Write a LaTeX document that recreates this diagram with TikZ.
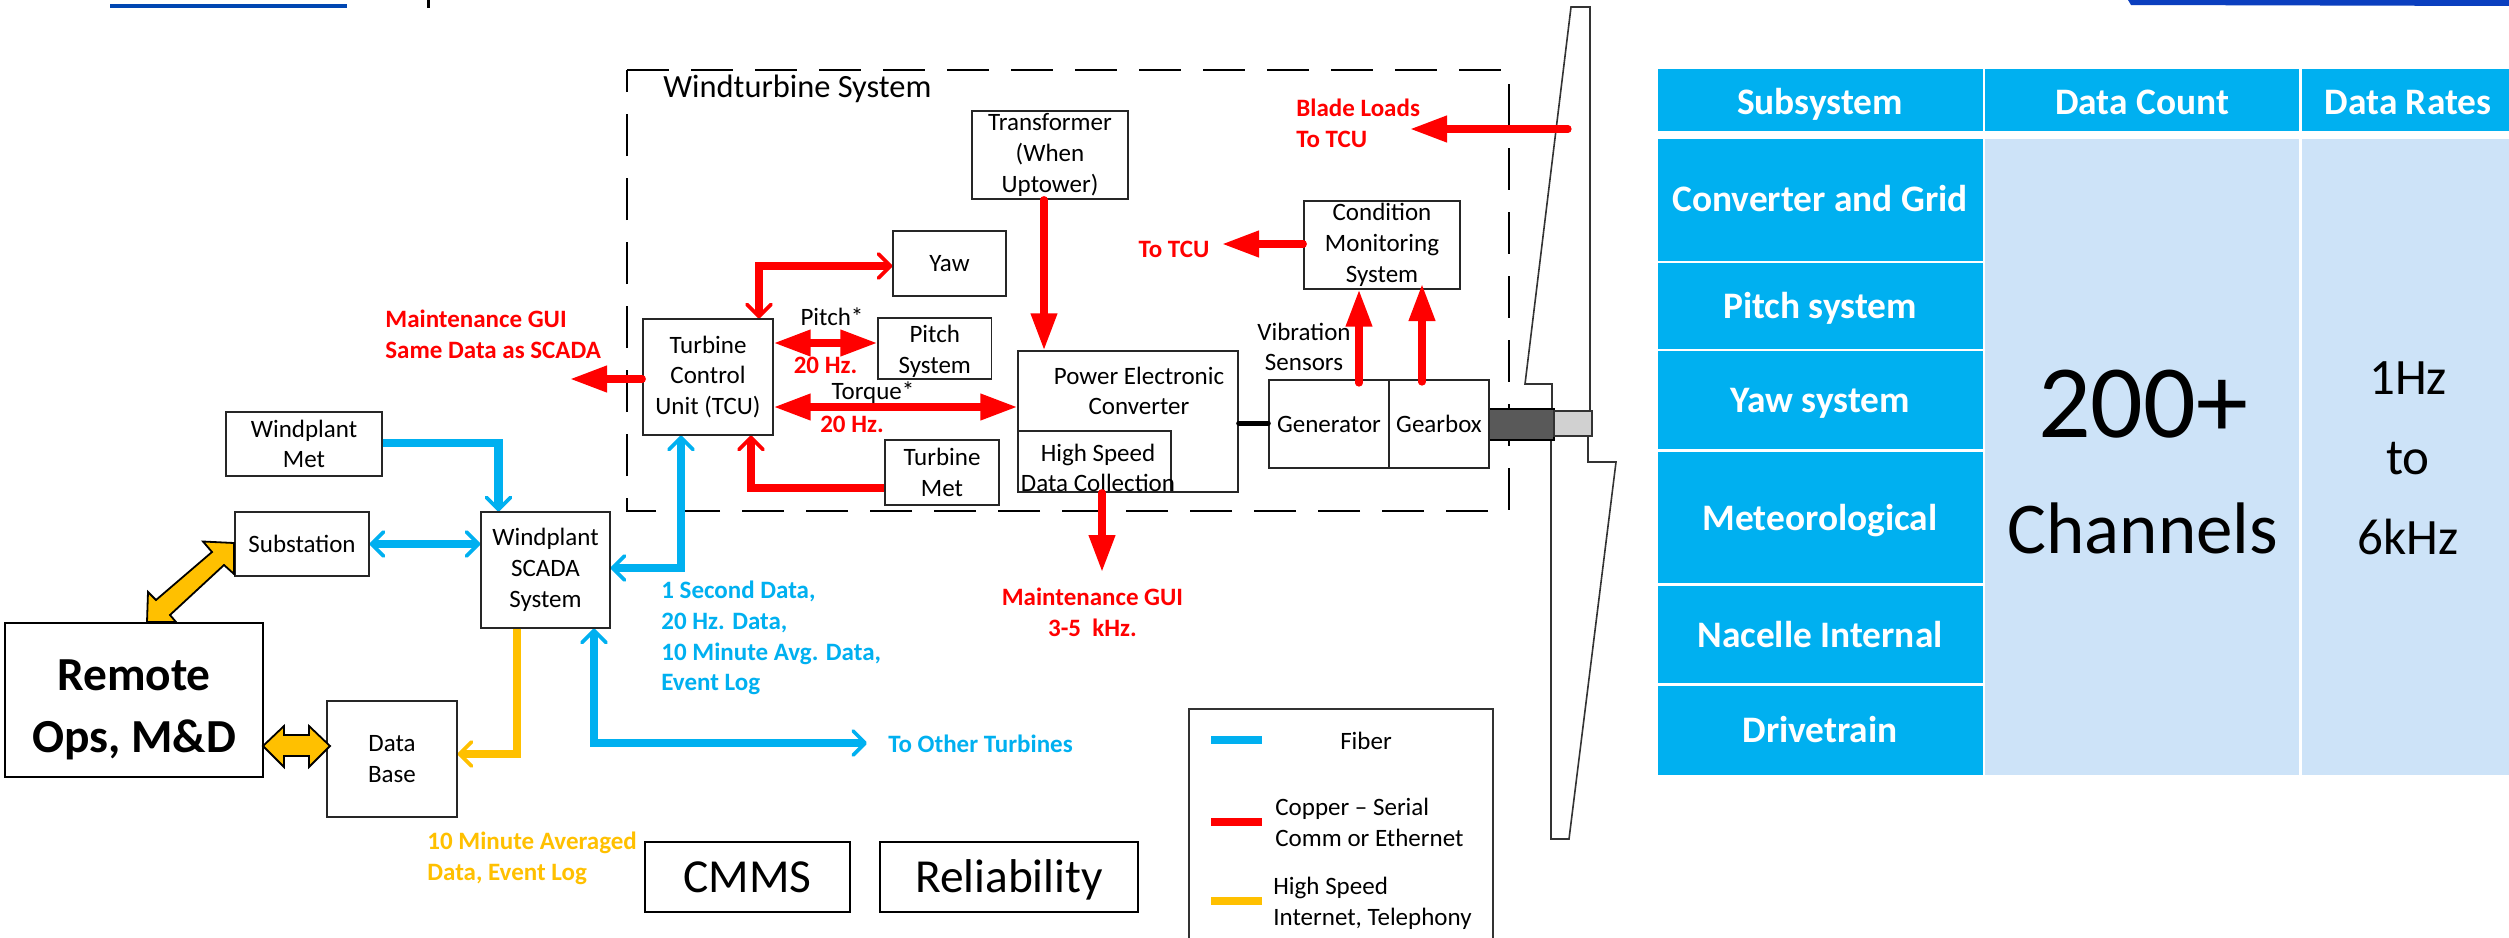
\documentclass[tikz,border=0pt]{standalone}
\usepackage{fontspec}
\setmainfont{Carlito}
\usetikzlibrary{arrows.meta,calc}
\definecolor{fib}{HTML}{00B0F0}
\definecolor{cop}{HTML}{FF0000}
\definecolor{gld}{HTML}{FFC000}
\definecolor{lite}{HTML}{CDE3F8}
\newcommand{\fs}[2]{\fontsize{#1}{#2}\selectfont}
\tikzset{
  x=0.5pt,y=-0.5pt,
  tri/.tip={Triangle[length=18.5pt,width=12.5pt]},
  barbtip/.tip={Straight Barb[length=6pt,width=12pt,line width=1.8pt,round]},
  box/.style={draw=black!85,line width=0.7pt,inner sep=0pt,align=center,font=\fs{12.5}{15.4}},
  bigbox/.style={draw=black,line width=1.2pt,inner sep=0pt,align=center,font=\fs{23.7}{29},text height=15.3pt,text depth=0pt},
  txt/.style={inner sep=0pt,font=\fs{12.5}{15.4}},
  redtxt/.style={inner sep=0pt,text=cop,font=\fs{12.5}{15.4}\bfseries},
  bluetxt/.style={inner sep=0pt,text=fib,font=\fs{12.5}{15.4}\bfseries},
  goldtxt/.style={inner sep=0pt,text=gld,font=\fs{12.5}{15.4}\bfseries},
  fiber/.style={draw=fib,line width=4.2pt},
  copper/.style={draw=cop,line width=3.6pt,line cap=round},
  copperb/.style={draw=cop,line width=4.2pt},
  serv/.style={draw=gld,line width=3.6pt},
  block/.style={draw=black,line width=0.9pt,fill=gld,line join=miter},
  hdcell/.style={fill=fib,inner sep=0pt},
  hd/.style={inner sep=0pt,text=white,font=\fs{18.7}{22}\bfseries,text height=12pt,text depth=0pt},
  cellb/.style={fill=lite,inner sep=0pt,align=center},
}
\begin{document}
\begin{tikzpicture}
\useasboundingbox (0,0) rectangle (2509,937);
% top fragments
\fill[fill=white] (0,0) rectangle (2509,937);
\draw[line width=1.6pt,draw=blue!60!cyan!70!black] (110,6) -- (347,6);
\draw[line width=1.5pt,draw=black] (428,0) -- (428,8);
\fill[fill={rgb,255:red,11;green,63;blue,191}] (2128,0) -- (2509,0) -- (2509,6) -- (2131,5) -- cycle;
% turbine boundary
\draw[line width=1.4pt,dash pattern=on 21pt off 11pt] (627,70) -- (1509,70) -- (1509,511) -- (627,511) -- cycle;
\node[txt,anchor=west,font=\fs{16.2}{18}] (wts) at (663,89) {Windturbine System};
% blade and shaft
\draw[draw=black!80,line width=0.8pt] (1552,409) -- (1552,384) -- (1525,384) -- (1571,7) -- (1590,7) -- (1590,411);
\draw[draw=black!80,line width=0.8pt] (1588,436) -- (1588,462) -- (1616,462) -- (1569,839) -- (1551,839) -- (1551,440);
\node[draw=black,line width=0.7pt,fill=black!65,inner sep=0pt,minimum width=32.5pt,minimum height=15.5pt] (shaft) at (1521.5,424.5) {};
\node[draw=black!80,line width=0.7pt,fill=black!18,inner sep=0pt,minimum width=19pt,minimum height=12.5pt] (hub) at (1573,423.5) {};
% boxes
\node[box,minimum width=78pt,minimum height=32pt] (met) at (304,444) {Windplant\\Met};
\node[box,minimum width=67pt,minimum height=32pt] (sub) at (302,544) {Substation};
\node[box,minimum width=64.5pt,minimum height=58pt] (scada) at (545.5,570) {Windplant\\SCADA\\System};
\node[box,minimum width=65pt,minimum height=58pt] (tcu) at (708,377) {Turbine\\Control\\Unit (TCU)};
\node[box,minimum width=65pt,minimum height=58pt] (db) at (392,759) {Data\\Base};
\node[draw=black,line width=1.2pt,inner sep=0pt,minimum width=129pt,minimum height=77pt] (remote) at (134,700) {};
\node[inner sep=0pt,align=center,font=\fs{23.7}{31}\bfseries] (remotet) at (134,710) {Remote\\Ops, M\&D};
\node[bigbox,minimum width=102.5pt,minimum height=35pt] (cmms) at (747.5,877) {CMMS};
\node[bigbox,minimum width=129pt,minimum height=35pt] (rel) at (1009,877) {Reliability};
\node[box,minimum width=78pt,minimum height=44pt] (trans) at (1050,155) {Transformer\\(When\\Uptower)};
\node[box,minimum width=56.5pt,minimum height=32.5pt] (yaw) at (949.5,263.5) {Yaw};
\node[box,minimum width=56.75pt,minimum height=30.5pt] (pitch) at (934.75,348.5) {};
\node[txt,align=center] (pitcht) at (934.75,351.5) {Pitch\\System};
\node[box,minimum width=57pt,minimum height=32.5pt] (tmet) at (942,472.5) {Turbine\\Met};
\node[box,minimum width=110pt,minimum height=70.5pt] (pec) at (1128,421.5) {};
\node[txt,align=center] (pect) at (1139,391) {Power Electronic\\Converter};
\node[box,minimum width=76.5pt,minimum height=30.5pt] (hs) at (1094.5,461.5) {};
\node[txt,align=center] (hst) at (1098,468) {High Speed\\Data Collection};
\node[box,minimum width=60pt,minimum height=44pt] (gen) at (1329,424) {Generator};
\node[box,minimum width=50pt,minimum height=44pt] (gear) at (1439,424) {Gearbox};
\node[box,minimum width=78pt,minimum height=44pt] (cond) at (1382,245) {Condition\\Monitoring\\System};
% free ends
\coordinate (toother) at (867,743);
\coordinate (hsout) at (1102,572);
\coordinate (gearup) at (1422,284);
\coordinate (cmsout) at (1222,244);
\coordinate (bladein) at (1568,129);
\coordinate (bladeout) at (1410,129);
\coordinate (guiout) at (570,379);
% fiber
\draw[fiber,-barbtip] (met.east |- 0,443) -| (498.5,0 |- scada.north);
\draw[fiber,barbtip-barbtip] (sub.east) -- (scada.west |- sub.east);
\draw[fiber,barbtip-barbtip] (scada.east |- 0,568) -| (681,0 |- tcu.south);
\draw[fiber,barbtip-barbtip] (594,0 |- scada.south) |- (toother);
% copper
\draw[copperb,barbtip-barbtip] (yaw.west |- 0,266) -| (759,0 |- tcu.north);
\draw[copperb,-barbtip] (tmet.west |- 0,488) -| (751,0 |- tcu.south);
\draw[copper,tri-tri] (tcu.east |- 0,343) -- (pitch.west |- 0,343);
\draw[copper,tri-tri] (tcu.east |- 0,407) -- (pec.west |- 0,407);
\draw[copper,-tri] (tcu.west |- 0,379) -- (guiout);
\draw[copper,-tri] (1044,0 |- trans.south) -- (1044,0 |- pec.north);
\draw[copper,-tri] (1102,0 |- hs.south) -- (hsout);
\draw[copper,-tri] (1359,383) -- (1359,0 |- cond.south);
\draw[copper,-tri] (1422,382) -- (gearup);
\draw[copper,-tri] (cond.west |- 0,244) -- (cmsout);
\draw[copper,-tri] (bladein) -- (bladeout);
\draw[draw=black,line width=2.5pt,line cap=round] (pec.east |- 0,423) -- (gen.west |- 0,423);
% scada to database
\draw[serv,-barbtip] (517,0 |- scada.south) |- (db.east |- 0,754);
% block arrows
\draw[block] (147,622) -- (148,592) -- (156,600) -- (212,552) -- (203,541.5) -- (234,543) -- (234,574) -- (224,565) -- (170,615) -- (176,622) -- cycle;
\draw[block] (263,746) -- (284,726) -- (284,735) -- (309,735) -- (309,726) -- (330,746) -- (309,767) -- (309,756) -- (284,756) -- (284,767) -- cycle;
% labels
\node[redtxt,anchor=west,align=left] (l1) at (385,334) {Maintenance GUI\\Same Data as SCADA};
\node[bluetxt,anchor=west,align=left] (l2) at (661,638) {1 Second Data,\\20 Hz. Data,\\10 Minute Avg. Data,\\Event Log};
\node[goldtxt,anchor=west,align=left] (l3) at (427,858) {10 Minute Averaged\\Data, Event Log};
\node[txt] (l4) at (832,317) {Pitch*};
\node[redtxt] (l5) at (825.5,365) {20 Hz.};
\node[txt] (l6) at (873,393) {Torque*};
\node[redtxt] (l7) at (852,424) {20 Hz.};
\node[redtxt] (l8) at (1174,249) {To TCU};
\node[redtxt,anchor=west,align=left] (l9) at (1296,123) {Blade Loads\\To TCU};
\node[txt,align=center] (l10) at (1304,347) {Vibration\\Sensors};
\node[redtxt,align=center] (l11) at (1092.5,612) {Maintenance GUI\\3-5~ kHz.};
\node[bluetxt,anchor=west] (l12) at (888,744) {To Other Turbines};
% legend
\draw[draw=black!80,line width=0.7pt] (1189,940) -- (1189,709) -- (1493,709) -- (1493,940);
\draw[fiber,line width=4pt] (1211,740) -- (1262,740);
\draw[copper,line width=4pt,line cap=butt] (1211,822) -- (1262,822);
\draw[serv,line width=4pt] (1211,901) -- (1262,901);
\node[txt] (lg1) at (1366,741) {Fiber};
\node[txt,anchor=west,align=left] (lg2) at (1275,822) {Copper – Serial\\Comm or Ethernet};
\node[txt,anchor=west,align=left] (lg3) at (1273,903) {High Speed\\Internet, Telephony};
% table
\node[hdcell,minimum width=162.25pt,minimum height=31pt] (h1) at (1820.25,100) {};
\node[hdcell,minimum width=157pt,minimum height=31pt] (h2) at (2142,100) {};
\node[hdcell,minimum width=103.5pt,minimum height=31pt] (h3) at (2405.5,100) {};
\node[hdcell,minimum width=162.25pt,minimum height=61pt] (r1) at (1820.25,200) {};
\node[hdcell,minimum width=162.25pt,minimum height=43pt] (r2) at (1820.25,306) {};
\node[hdcell,minimum width=162.25pt,minimum height=49pt] (r3) at (1820.25,400) {};
\node[hdcell,minimum width=162.25pt,minimum height=65.75pt] (r4) at (1820.25,517.25) {};
\node[hdcell,minimum width=162.25pt,minimum height=48.5pt] (r5) at (1820.25,634.5) {};
\node[hdcell,minimum width=162.25pt,minimum height=44.5pt] (r6) at (1820.25,730.5) {};
\node[hd] (h1t) at (1820,102) {Subsystem};
\node[hd] (h2t) at (2142,102) {Data Count};
\node[hd] (h3t) at (2408,102) {Data Rates};
\node[hd] (r1t) at (1820,199) {Converter and Grid};
\node[hd] (r2t) at (1820,306.5) {Pitch system};
\node[hd] (r3t) at (1820,400.5) {Yaw system};
\node[hd] (r4t) at (1820,518) {Meteorological};
\node[hd] (r5t) at (1820,635) {Nacelle Internal};
\node[hd] (r6t) at (1820,730.5) {Drivetrain};
\node[cellb,minimum width=157pt,minimum height=318pt] (c2) at (2142,457) {};
\node[cellb,minimum width=103.5pt,minimum height=318pt] (c3) at (2405.5,457) {};
\node[inner sep=0pt,font=\fs{52}{60},text height=33pt,text depth=0pt] (big) at (2143,404) {200+};
\node[inner sep=0pt,font=\fs{36.5}{44}] (chan) at (2143,528) {Channels};
\node[inner sep=0pt,font=\fs{25.5}{30}] (hz1) at (2408,378) {1Hz};
\node[inner sep=0pt,font=\fs{25.5}{30}] (hz2) at (2408,459) {to};
\node[inner sep=0pt,font=\fs{25.5}{30}] (hz3) at (2408,537) {6kHz};
\end{tikzpicture}
\end{document}
